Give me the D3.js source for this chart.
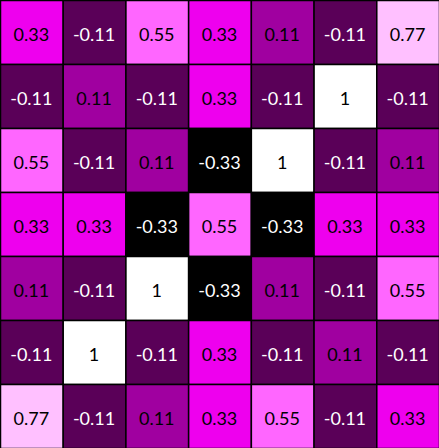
<!DOCTYPE html>
<html>
<head>
<meta charset="utf-8">
<script src="https://cdn.jsdelivr.net/npm/d3@7"></script>
<style>
html,body{margin:0;padding:0;background:#fff;}
svg{display:block;}
</style>
</head>
<body>
<svg id="chart" width="439" height="448"></svg>
<script>
const rows = [0,1,2,3,4,5,6];
const cols = [0,1,2,3,4,5,6];
const row0 = [0.33, -0.11, 0.55, 0.33, 0.11, -0.11, 0.77];
const row1 = [-0.11, 0.11, -0.11, 0.33, -0.11, 1, -0.11];
const row2 = [0.55, -0.11, 0.11, -0.33, 1, -0.11, 0.11];
const row3 = [0.33, 0.33, -0.33, 0.55, -0.33, 0.33, 0.33];
const row4 = [0.11, -0.11, 1, -0.33, 0.11, -0.11, 0.55];
const row5 = [-0.11, 1, -0.11, 0.33, -0.11, 0.11, -0.11];
const row6 = [0.77, -0.11, 0.11, 0.33, 0.55, -0.11, 0.33];
const matrix = [row0,row1,row2,row3,row4,row5,row6];
const levels = [-0.33, -0.11, 0.11, 0.33, 0.55, 0.77, 1];
const palette = ["#000000", "#5a0058", "#a000a0", "#ee00ee", "#ff66ff", "#ffc0ff", "#ffffff"];

const W = 439, H = 448;
const svg = d3.select("#chart");
const x = d3.scaleBand().domain(cols).range([0, W]);
const y = d3.scaleBand().domain(rows).range([0, H]);
const color = d3.scaleOrdinal().domain(levels).range(palette);

const cells = [];
matrix.forEach((r, i) => r.forEach((v, j) => cells.push({r: i, c: j, v})));

const g = svg.selectAll("g.cell").data(cells).join("g").attr("class","cell");
g.append("rect")
  .attr("x", d => x(d.c) + 0.5)
  .attr("y", d => y(d.r) + 0.5)
  .attr("width", x.bandwidth())
  .attr("height", y.bandwidth())
  .attr("fill", d => color(d.v))
  .attr("stroke", "#000")
  .attr("stroke-width", 1.5);
g.append("text")
  .attr("x", d => x(d.c) + x.bandwidth()/2)
  .attr("y", d => y(d.r) + y.bandwidth()/2 + 2)
  .attr("text-anchor", "middle")
  .attr("dominant-baseline", "central")
  .attr("font-family", "Lato, 'Liberation Sans', sans-serif")
  .attr("font-size", "18px")
  .attr("fill", d => d.v < 0 ? "#fff" : "#000")
  .text(d => String(d.v));
</script>
</body>
</html>
